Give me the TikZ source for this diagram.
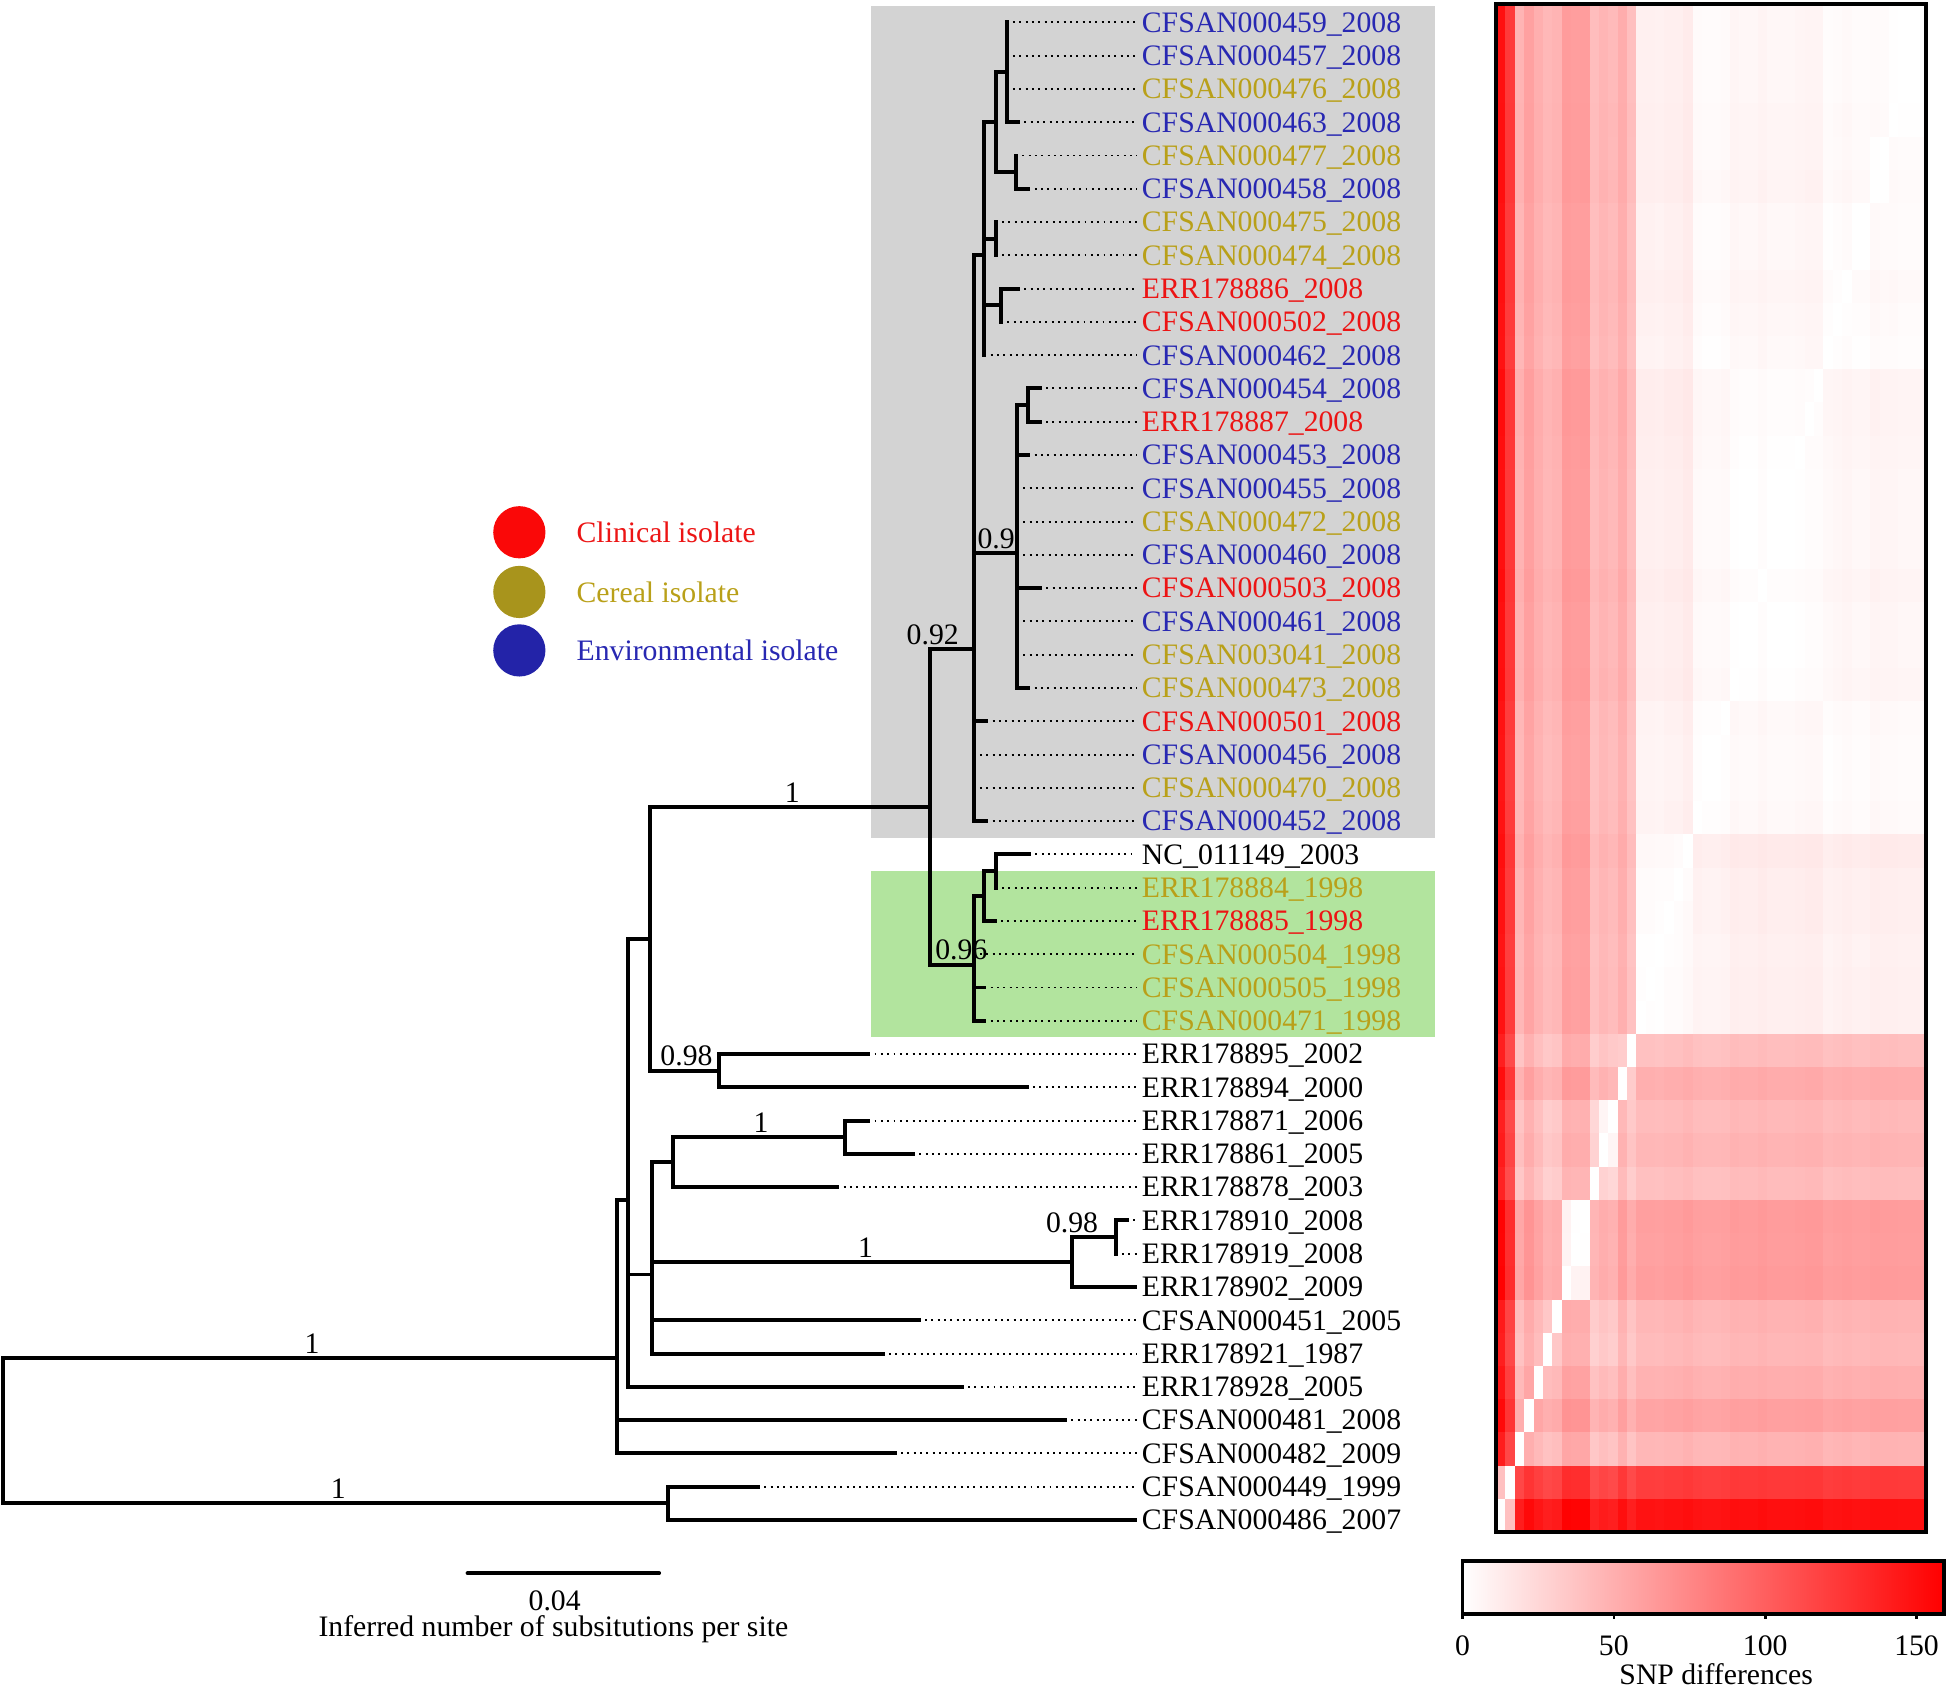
\documentclass[tikz,border=0pt]{standalone}
\usepackage{fontspec}
\setmainfont{Liberation Serif}
\definecolor{clin}{RGB}{236,20,20}
\definecolor{cer}{RGB}{185,160,25}
\definecolor{env}{RGB}{40,40,178}
\definecolor{clindot}{RGB}{250,8,8}
\definecolor{cerdot}{RGB}{168,148,28}
\definecolor{envdot}{RGB}{35,35,168}
\definecolor{greybox}{RGB}{211,211,211}
\definecolor{greenbox}{RGB}{178,228,158}
\newcommand\leafdata[5]{%
\expandafter\xdef\csname lx-#1\endcsname{#2}%
\expandafter\xdef\csname lc-#1\endcsname{#3}%
\expandafter\gdef\csname ln-#1\endcsname{#4}%
\expandafter\xdef\csname nx-\the\numexpr100+#1\relax\endcsname{#2}%
\foreach \dd in {1,...,9}{\expandafter\xdef\csname pth-#1-\dd\endcsname{\the\numexpr100+#1\relax}}%
\foreach \id [count=\dd] in {#5}{\expandafter\xdef\csname pth-#1-\dd\endcsname{\id}\expandafter\xdef\csname par-#1\endcsname{\id}}}
\leafdata{1}{809.4}{env}{CFSAN000459\_2008}{1,2,3,4,5,6,7,8}
\leafdata{2}{809.4}{env}{CFSAN000457\_2008}{1,2,3,4,5,6,7,8}
\leafdata{3}{809.4}{cer}{CFSAN000476\_2008}{1,2,3,4,5,6,7,8}
\leafdata{4}{818.6}{env}{CFSAN000463\_2008}{1,2,3,4,5,6,7,8}
\leafdata{5}{817}{cer}{CFSAN000477\_2008}{1,2,3,4,5,6,7,9}
\leafdata{6}{827}{env}{CFSAN000458\_2008}{1,2,3,4,5,6,7,9}
\leafdata{7}{800.7}{cer}{CFSAN000475\_2008}{1,2,3,4,5,6,10}
\leafdata{8}{800.7}{cer}{CFSAN000474\_2008}{1,2,3,4,5,6,10}
\leafdata{9}{818.6}{clin}{ERR178886\_2008}{1,2,3,4,5,6,11}
\leafdata{10}{805}{clin}{CFSAN000502\_2008}{1,2,3,4,5,6,11}
\leafdata{11}{791.5}{env}{CFSAN000462\_2008}{1,2,3,4,5,6}
\leafdata{12}{836}{env}{CFSAN000454\_2008}{1,2,3,4,5,12,13}
\leafdata{13}{836}{clin}{ERR178887\_2008}{1,2,3,4,5,12,13}
\leafdata{14}{826.9}{env}{CFSAN000453\_2008}{1,2,3,4,5,12}
\leafdata{15}{817.7}{env}{CFSAN000455\_2008}{1,2,3,4,5,12}
\leafdata{16}{817.7}{cer}{CFSAN000472\_2008}{1,2,3,4,5,12}
\leafdata{17}{817.7}{env}{CFSAN000460\_2008}{1,2,3,4,5,12}
\leafdata{18}{836.2}{clin}{CFSAN000503\_2008}{1,2,3,4,5,12}
\leafdata{19}{817.7}{env}{CFSAN000461\_2008}{1,2,3,4,5,12}
\leafdata{20}{817.7}{cer}{CFSAN003041\_2008}{1,2,3,4,5,12}
\leafdata{21}{826.9}{cer}{CFSAN000473\_2008}{1,2,3,4,5,12}
\leafdata{22}{793}{clin}{CFSAN000501\_2008}{1,2,3,4,5}
\leafdata{23}{782.9}{env}{CFSAN000456\_2008}{1,2,3,4,5}
\leafdata{24}{782.9}{cer}{CFSAN000470\_2008}{1,2,3,4,5}
\leafdata{25}{793}{env}{CFSAN000452\_2008}{1,2,3,4,5}
\leafdata{26}{827.5}{black}{NC\_011149\_2003}{1,2,3,4,14,15,16}
\leafdata{27}{800.7}{cer}{ERR178884\_1998}{1,2,3,4,14,15,16}
\leafdata{28}{799.8}{clin}{ERR178885\_1998}{1,2,3,4,14,15}
\leafdata{29}{782.9}{cer}{CFSAN000504\_1998}{1,2,3,4,14}
\leafdata{30}{791.5}{cer}{CFSAN000505\_1998}{1,2,3,4,14}
\leafdata{31}{791.5}{cer}{CFSAN000471\_1998}{1,2,3,4,14}
\leafdata{32}{698.1}{black}{ERR178895\_2002}{1,2,3,17}
\leafdata{33}{825.5}{black}{ERR178894\_2000}{1,2,3,17}
\leafdata{34}{698.1}{black}{ERR178871\_2006}{1,2,18,19,20}
\leafdata{35}{734.1}{black}{ERR178861\_2005}{1,2,18,19,20}
\leafdata{36}{673.2}{black}{ERR178878\_2003}{1,2,18,19}
\leafdata{37}{906.3}{black}{ERR178910\_2008}{1,2,18,21,22}
\leafdata{38}{897}{black}{ERR178919\_2008}{1,2,18,21,22}
\leafdata{39}{912.7}{black}{ERR178902\_2009}{1,2,18,21}
\leafdata{40}{738.7}{black}{CFSAN000451\_2005}{1,2,18}
\leafdata{41}{709.7}{black}{ERR178921\_1987}{1,2,18}
\leafdata{42}{773.4}{black}{ERR178928\_2005}{1,2}
\leafdata{43}{856.4}{black}{CFSAN000481\_2008}{1}
\leafdata{44}{719.4}{black}{CFSAN000482\_2009}{1}
\leafdata{45}{609.5}{black}{CFSAN000449\_1999}{23}
\leafdata{46}{912.7}{black}{CFSAN000486\_2007}{23}
\newcommand\chk[1]{\ifnum\csname pth-\leafa-#1\endcsname=\csname pth-\leafb-#1\endcsname\relax\edef\lcax{\csname nx-\csname pth-\leafa-#1\endcsname\endcsname}\fi}
\newcommand\lcaof{\def\lcax{2.6}\chk1\chk2\chk3\chk4\chk5\chk6\chk7\chk8\chk9}
\tikzset{branch/.style={line width=0.9pt,line cap=rect},
leader/.style={line width=0.45pt,black,dash pattern=on 0.45pt off 1pt},
leaflab/.style={anchor=west,inner sep=1pt,text height=4.5pt,text depth=0pt},
supp/.style={above,inner sep=0.8pt},
dot/.style={circle,minimum size=4.2mm,inner sep=0pt}}
\begin{document}
\begin{tikzpicture}[x=0.1mm,y=-0.1mm,every node/.style={font=\fontsize{6.8}{8.2}\selectfont}]
\useasboundingbox (0,0) rectangle (1568,1356);
\fill[greybox] (700,4.6) rectangle (1154,673.6);
\fill[greenbox] (700,700.4) rectangle (1154,834.2);
\coordinate (n0) at (2.6,1150.3);
\foreach \id/\xx/\yy/\pa in {1/495.9/1091.85/0,2/505/964.94/1,3/523/754.82/2,4/747.5/648.69/3,5/782.9/521.73/4,6/791.5/205.32/5,7/800.7/98.28/6,8/809.4/58.14/7,9/817/138.42/7,10/800.7/191.94/6,11/805/245.46/6,12/817.7/444.67/5,13/826.9/325.74/12,14/782.9/775.64/4,15/791.5/720.45/14,16/800.7/700.38/15,17/578.1/860.94/3,18/524/1024.85/2,19/541.2/934.53/18,20/679.7/914.46/19,21/862/1014.81/18,22/897/994.74/21,23/537/1208.82/0}{
\coordinate (n\id) at (\xx,\yy);
\expandafter\xdef\csname nx-\id\endcsname{\xx}
\draw[branch] (n\pa) |- (n\id);}
\foreach \i in {1,...,46}{
\pgfmathsetmacro\yy{18+26.76*(\i-1)}
\edef\xx{\csname lx-\i\endcsname}\edef\lcol{\csname lc-\i\endcsname}\edef\pa{\csname par-\i\endcsname}
\coordinate (l\i) at (\xx,\yy);
\node[leaflab,text=\lcol] (t\i) at (914,\yy) {\csname ln-\i\endcsname};
\draw[branch] (n\pa) |- (l\i);
\draw[leader] (l\i) -- (t\i.west);}
\foreach \xx/\yy/\val [count=\q] in {251/1091.85/1,272/1208.82/1,637/648.69/1,552/860.94/0.98,612/914.46/1,696/1014.81/1,862/994.74/0.98,750/521.73/0.92,801/444.67/0.9,773/775.64/0.96}
\node[supp] (b\q) at (\xx,\yy) {\val};
\foreach \yy/\fc/\tc/\txt [count=\q] in {428/clindot/clin/Clinical isolate,476/cerdot/cer/Cereal isolate,523/envdot/env/Environmental isolate}{
\node[dot,fill=\fc] (d\q) at (417.6,\yy) {};
\node[anchor=west,inner sep=0pt,text=\tc,text height=4.6pt,text depth=0pt] (e\q) at (463,\yy) {\txt};}
\foreach \row in {1,...,46}{\foreach \col in {1,...,46}{
\edef\leafa{\row}\edef\leafb{\the\numexpr47-\col\relax}\lcaof
\edef\xa{\csname lx-\leafa\endcsname}\edef\xb{\csname lx-\leafb\endcsname}
\pgfmathsetmacro\pct{min(100,max(0,(\xa+\xb-2*\lcax)*0.0546))}
\fill[red!\pct!white] ({1203+7.522*(\col-1)},{3+26.717*(\row-1)}) rectangle ++(7.9,27.1);}}
\draw[line width=0.9pt] (1203,3) rectangle (1549,1232);
\shade[left color=white,right color=red] (1176,1255) rectangle (1563,1298);
\draw[line width=0.9pt] (1176,1255) rectangle (1563,1298);
\foreach \val [count=\q] in {0,50,100,150}{
\draw[line width=0.6pt] ({1176+2.434*\val},1298) -- ++(0,4);
\node (k\q) at ({1176+2.434*\val},1323) {\val};}
\node (snp) at (1380,1346) {SNP differences};
\coordinate (sba) at (376,1265);
\coordinate (sbb) at (530,1265);
\draw[line width=0.9pt,line cap=round] (sba) -- (sbb);
\node (sbv) at (446,1287) {0.04};
\node (sbt) at (445,1310) {Inferred number of subsitutions per site};
\end{tikzpicture}
\end{document}
